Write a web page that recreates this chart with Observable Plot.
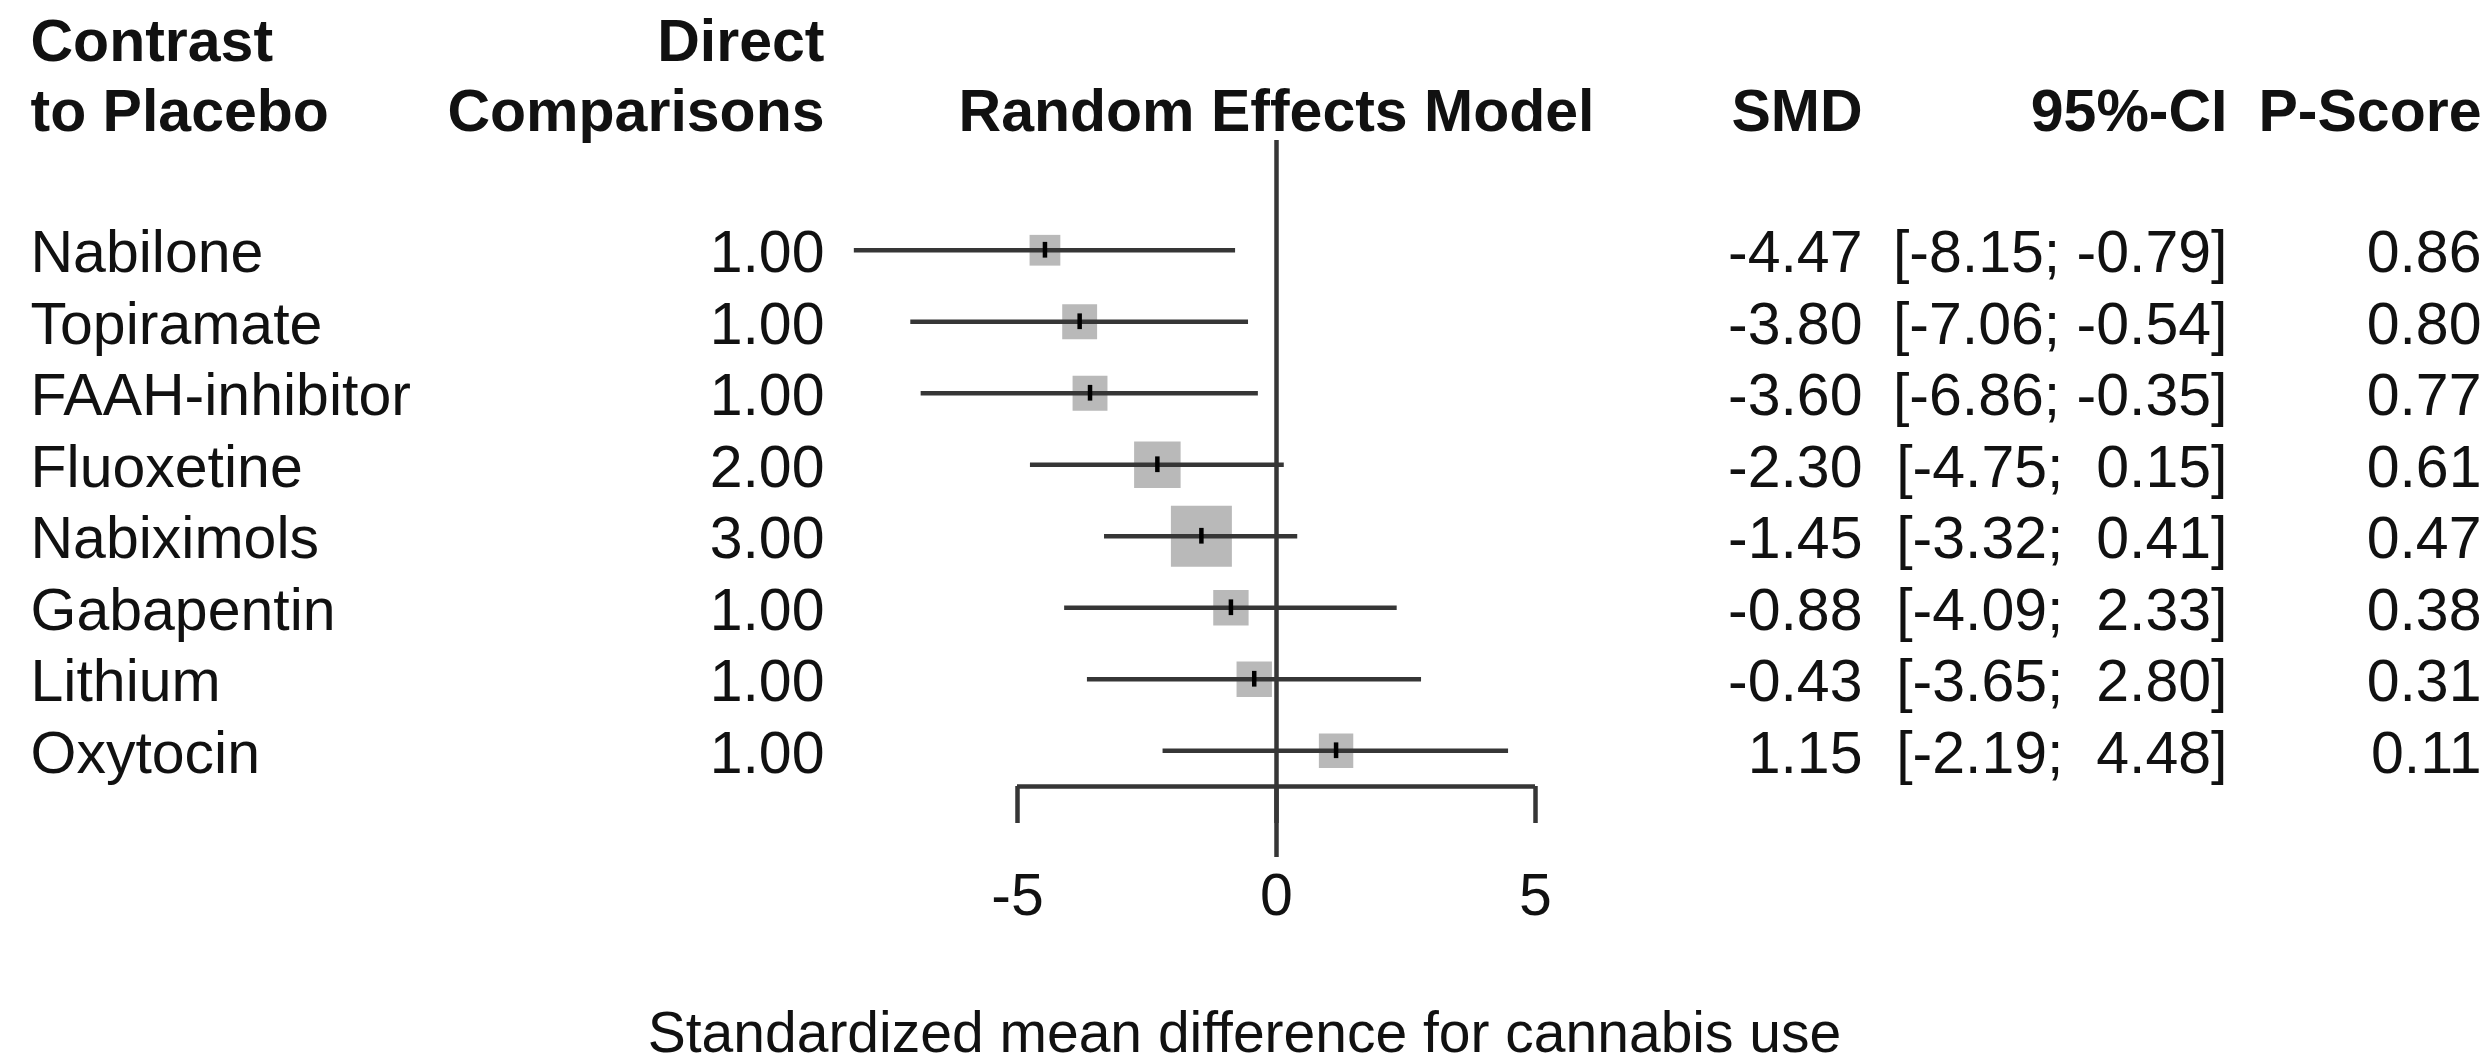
<!DOCTYPE html>
<html>
<head>
<meta charset="utf-8">
<script src="https://cdn.jsdelivr.net/npm/d3@7"></script>
<script src="https://cdn.jsdelivr.net/npm/@observablehq/plot@0.6"></script>
<style>
  html, body { margin: 0; padding: 0; background: #fff; }
</style>
</head>
<body>
<div id="chart"></div>
<script>
// ---- data ----
const treatments = ["Nabilone", "Topiramate", "FAAH-inhibitor", "Fluoxetine", "Nabiximols", "Gabapentin", "Lithium", "Oxytocin"];
const directComparisons = [1, 1, 1, 2, 3, 1, 1, 1];
const smd = [-4.47, -3.80, -3.60, -2.30, -1.45, -0.88, -0.43, 1.15];
const ciLower = [-8.15, -7.06, -6.86, -4.75, -3.32, -4.09, -3.65, -2.19];
const ciUpper = [-0.79, -0.54, -0.35, 0.15, 0.41, 2.33, 2.80, 4.48];
const pScore = [0.86, 0.80, 0.77, 0.61, 0.47, 0.38, 0.31, 0.11];
const squareWeight = [0.28, 0.36, 0.36, 0.64, 1.10, 0.37, 0.37, 0.35];
const xTicks = [-5, 0, 5];

const headContrast = "Contrast\nto Placebo";
const headDirect = "Direct\nComparisons";
const headModel = "Random Effects Model";
const headSMD = "SMD";
const headCI = "95%-CI";
const headP = "P-Score";
const xLabel = "Standardized mean difference for cannabis use";

// ---- table built from the arrays ----
const rows = treatments.map((name, i) => ({
  i, name,
  n: directComparisons[i].toFixed(2),
  smd: smd[i],
  smdText: smd[i].toFixed(2),
  lo: ciLower[i],
  hi: ciUpper[i],
  ciText: `[${ciLower[i].toFixed(2)}; ${ciUpper[i] >= 0 ? " " : ""}${ciUpper[i].toFixed(2)}]`,
  p: pScore[i].toFixed(2),
  w: squareWeight[i]
}));
const yDomain = [-0.5, rows.length - 0.5];

// ---- layout ----
const W = 2490, H = 1063;
const mL = 1017, mR = 955, mT = 214, mB = 277;
const FS = 59;
const font = "'Liberation Sans', Arial, Helvetica, sans-serif";
const ink = "#363636";
const lw = 4.5;

const colName = 30 - mL;        // from frame left
const colN = 824 - mL;          // from frame left
const colSMD = 1862 - (W - mR); // from frame right
const colCI = 2227 - (W - mR);
const colP = 2481 - (W - mR);
const headDy = -84;

const chart = Plot.plot({
  width: W,
  height: H,
  marginLeft: mL,
  marginRight: mR,
  marginTop: mT,
  marginBottom: mB,
  style: { fontFamily: font, fontSize: FS + "px", color: "#111", background: "#fff" },
  x: { domain: [xTicks[0], xTicks[xTicks.length - 1]] },
  y: { domain: yDomain, reverse: true, axis: null },
  r: { range: [0, 34.4] },
  marks: [
    // weight squares
    Plot.dot(rows, { x: "smd", y: "i", r: "w", symbol: "square", fill: "#b9b9b9" }),
    // line of no effect
    Plot.ruleX([0], { stroke: ink, strokeWidth: lw, insetTop: -74, insetBottom: -71 }),
    // confidence intervals
    Plot.ruleY(rows, { y: "i", x1: "lo", x2: "hi", stroke: ink, strokeWidth: lw }),
    // point estimates
    Plot.ruleX(rows, { x: "smd", y1: d => d.i - 0.11, y2: d => d.i + 0.11, stroke: "#000", strokeWidth: 4.5 }),
    // axis
    Plot.ruleY([yDomain[1]], { x1: xTicks[0], x2: xTicks[xTicks.length - 1], stroke: ink, strokeWidth: lw }),
    Plot.axisX({ ticks: xTicks, tickSize: 37, tickPadding: 50, tickFormat: d => String(d), label: null, stroke: ink, strokeWidth: lw, fontSize: FS }),
    Plot.text([xLabel], { text: d => d, frameAnchor: "bottom", dx: -32, dy: 265, lineAnchor: "bottom", fontSize: 57 }),

    // headers
    Plot.text([headContrast], { text: d => d, frameAnchor: "top-left", dx: colName, dy: headDy, textAnchor: "start", lineAnchor: "bottom", lineHeight: 1.17, fontWeight: "bold", fontSize: FS }),
    Plot.text([headDirect], { text: d => d, frameAnchor: "top-left", dx: colN, dy: headDy, textAnchor: "end", lineAnchor: "bottom", lineHeight: 1.17, fontWeight: "bold", fontSize: FS }),
    Plot.text([headModel], { text: d => d, frameAnchor: "top", dy: headDy, lineAnchor: "bottom", fontWeight: "bold", fontSize: FS }),
    Plot.text([headSMD], { text: d => d, frameAnchor: "top-right", dx: colSMD, dy: headDy, textAnchor: "end", lineAnchor: "bottom", fontWeight: "bold", fontSize: FS }),
    Plot.text([headCI], { text: d => d, frameAnchor: "top-right", dx: colCI, dy: headDy, textAnchor: "end", lineAnchor: "bottom", fontWeight: "bold", fontSize: FS }),
    Plot.text([headP], { text: d => d, frameAnchor: "top-right", dx: colP, dy: headDy, textAnchor: "end", lineAnchor: "bottom", fontWeight: "bold", fontSize: FS }),

    // table columns
    Plot.text(rows, { y: "i", text: "name", frameAnchor: "left", dx: colName, dy: 3, textAnchor: "start", fontSize: FS }),
    Plot.text(rows, { y: "i", text: "n", frameAnchor: "left", dx: colN, dy: 3, textAnchor: "end", fontSize: FS }),
    Plot.text(rows, { y: "i", text: "smdText", frameAnchor: "right", dx: colSMD, dy: 3, textAnchor: "end", fontSize: FS }),
    Plot.text(rows, { y: "i", text: "ciText", frameAnchor: "right", dx: colCI, dy: 3, textAnchor: "end", fontSize: FS }),
    Plot.text(rows, { y: "i", text: "p", frameAnchor: "right", dx: colP, dy: 3, textAnchor: "end", fontSize: FS })
  ]
});

document.getElementById("chart").appendChild(chart);
</script>
</body>
</html>
